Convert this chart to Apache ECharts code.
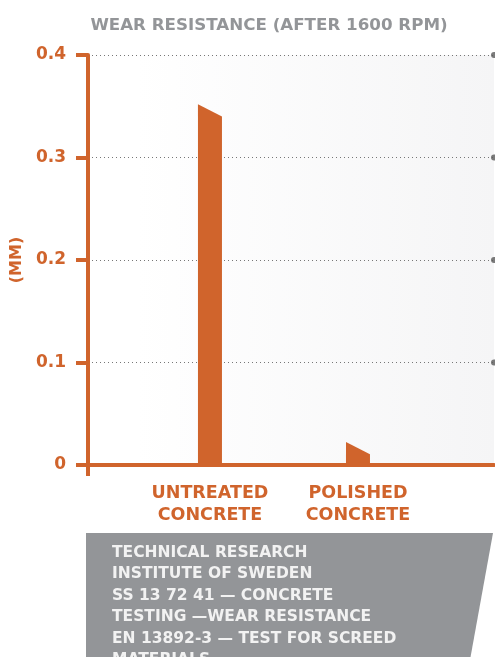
<!DOCTYPE html>
<html>
<head>
<meta charset="utf-8">
<script src="https://cdn.jsdelivr.net/npm/echarts@6/dist/echarts.min.js"></script>
<style>
  html, body { margin: 0; padding: 0; background: #fff; }
  #wear { width: 495px; height: 657px; }
</style>
</head>
<body>
<div id="wear"></div>
<script>
// values (mm of wear)
var categories = ['UNTREATED\nCONCRETE', 'POLISHED\nCONCRETE'];
var topLeft = [0.352, 0.0225];
var topRight = [0.340, 0.0105];
var yTicks = [0.1, 0.2, 0.3, 0.4];
var noteLines = [
  'TECHNICAL RESEARCH',
  'INSTITUTE OF SWEDEN',
  'SS 13 72 41 \u2014 CONCRETE',
  'TESTING \u2014WEAR RESISTANCE',
  'EN 13892-3 \u2014 TEST FOR SCREED',
  'MATERIALS.'
];

var orange = '#d0642c';
var grey = '#939598';
var xMin = -0.824, xMax = 1.919;

var chart = echarts.init(document.getElementById('wear'));

var option = {
  backgroundColor: '#fff',
  animation: false,
  title: {
    text: 'WEAR RESISTANCE (AFTER 1600 RPM)',
    left: 264, top: 12, textAlign: 'center',
    textStyle: { color: grey, fontFamily: 'DejaVu Sans', fontWeight: 'bold', fontSize: 16.7 }
  },
  grid: {
    left: 88, right: 1, top: 55, bottom: 192,
    show: true, borderWidth: 0,
    backgroundColor: {
      type: 'linear', x: 0, y: 0, x2: 1, y2: 0,
      colorStops: [{ offset: 0, color: '#ffffff' }, { offset: 0.12, color: '#ffffff' }, { offset: 1, color: '#f5f5f6' }]
    }
  },
  xAxis: {
    type: 'value', min: xMin, max: xMax,
    axisLine: { show: true, lineStyle: { color: orange, width: 4 } },
    axisTick: { show: true, customValues: [xMin], length: 11, lineStyle: { color: orange, width: 4 } },
    axisLabel: {
      customValues: [0, 1],
      formatter: function (v) { return categories[Math.round(v)]; },
      color: orange, fontFamily: 'DejaVu Sans', fontWeight: 'bold', fontSize: 17.5,
      lineHeight: 22, margin: 17, align: 'center'
    },
    splitLine: { show: false }
  },
  yAxis: {
    type: 'value', min: 0, max: 0.4, interval: 0.1,
    name: '(MM)', nameLocation: 'middle', nameRotate: 90, nameGap: 56,
    nameTextStyle: { color: orange, fontFamily: 'DejaVu Sans', fontWeight: 'bold', fontSize: 16 },
    axisLine: { show: true, onZero: false, lineStyle: { color: orange, width: 4 } },
    axisTick: { show: true, length: 12, lineStyle: { color: orange, width: 4 } },
    axisLabel: {
      color: orange, fontFamily: 'DejaVu Sans', fontWeight: 'bold', fontSize: 17, margin: 22,
      formatter: function (v) { return v === 0 ? '0' : v.toFixed(1); }
    },
    splitLine: { show: true, lineStyle: { color: '#777', width: 1, type: [1, 3] } }
  },
  series: [{
    type: 'custom',
    data: categories.map(function (c, i) { return [i, topLeft[i], topRight[i]]; }),
    renderItem: function (params, api) {
      var base = api.coord([api.value(0), 0]);
      var l = api.coord([api.value(0), api.value(1)]);
      var r = api.coord([api.value(0), api.value(2)]);
      var hw = 12;
      return {
        type: 'polygon',
        shape: { points: [[base[0] - hw, base[1]], [l[0] - hw, l[1]], [r[0] + hw, r[1]], [base[0] + hw, base[1]]] },
        style: { fill: orange }
      };
    },
    z: 1
  }, {
    type: 'scatter',
    data: yTicks.map(function (v) { return [xMax, v]; }),
    symbolSize: 6, clip: false,
    itemStyle: { color: '#5a5a5a' },
    silent: true
  }],
  graphic: [{
    type: 'polygon',
    shape: { points: [[86, 533], [493, 533], [470, 660], [86, 660]] },
    style: { fill: grey },
    z: 10
  }, {
    type: 'text', left: 112, top: 542, z: 11,
    style: {
      text: noteLines.join('\n'),
      fill: '#f2f2f2', font: 'bold 15.5px "DejaVu Sans"', lineHeight: 21.5
    }
  }]
};

chart.setOption(option);
</script>
</body>
</html>
